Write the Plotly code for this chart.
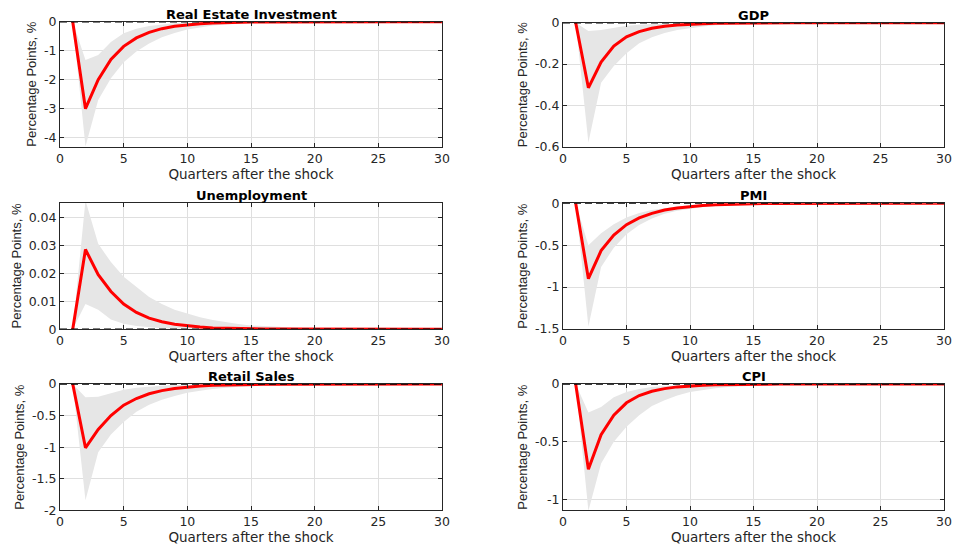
import plotly.graph_objects as go

quarters = list(range(1, 31))

titles = ["Real Estate Investment", "GDP", "Unemployment", "PMI", "Retail Sales", "CPI"]

rei_med = [0, -3.0, -2.0, -1.3, -0.85, -0.56, -0.37, -0.24, -0.16, -0.105, -0.07, -0.046, -0.03, -0.02, -0.013,
           -0.009, -0.006, -0.004, -0.003, -0.002, -0.001, -0.001, -0.001, 0, 0, 0, 0, 0, 0, 0]
rei_lo = [0, -4.3, -2.7, -1.95, -1.4, -1.03, -0.75, -0.54, -0.39, -0.27, -0.19, -0.135, -0.095, -0.067, -0.048,
          -0.034, -0.024, -0.017, -0.012, -0.009, -0.006, -0.004, -0.003, -0.002, -0.002, -0.001, -0.001, -0.001, 0, 0]
rei_hi = [0, -1.32, -1.15, -0.7, -0.4, -0.24, -0.15, -0.09, -0.055, -0.035, -0.022, -0.014, -0.009, -0.006, -0.004,
          -0.003, -0.002, -0.001, -0.001, 0, 0, 0, 0, 0, 0, 0, 0, 0, 0, 0]

gdp_med = [0, -0.315, -0.19, -0.113, -0.068, -0.043, -0.027, -0.017, -0.011, -0.007, -0.0045, -0.003, -0.002, -0.0013, -0.0008,
           -0.0005, -0.0003, -0.0002, -0.0001, 0, 0, 0, 0, 0, 0, 0, 0, 0, 0, 0]
gdp_lo = [0, -0.58, -0.29, -0.21, -0.148, -0.1, -0.07, -0.05, -0.035, -0.025, -0.018, -0.012, -0.008, -0.006, -0.004,
          -0.003, -0.002, -0.0015, -0.001, -0.0007, -0.0005, -0.0003, -0.0002, -0.0001, 0, 0, 0, 0, 0, 0]
gdp_hi = [0, -0.04, -0.035, -0.025, -0.015, -0.01, -0.006, -0.004, -0.0025, -0.0015, -0.001, -0.0006, -0.0004, -0.0002, -0.0001,
          0, 0, 0, 0, 0, 0, 0, 0, 0, 0, 0, 0, 0, 0, 0]

une_med = [0, 0.0285, 0.0195, 0.0135, 0.009, 0.006, 0.004, 0.0027, 0.0018, 0.0012, 0.0008, 0.0005, 0.00035, 0.00023, 0.00015,
           0.0001, 0.00007, 0.00005, 0.00003, 0.00002, 0.00001, 0, 0, 0, 0, 0, 0, 0, 0, 0]
une_lo = [0, 0.009, 0.007, 0.0035, 0.002, 0.0012, 0.0007, 0.0004, 0.00025, 0.00015, 0.0001, 0.00006, 0.00004, 0.00002, 0.00001,
          0, 0, 0, 0, 0, 0, 0, 0, 0, 0, 0, 0, 0, 0, 0]
une_hi = [0, 0.046, 0.0305, 0.024, 0.0188, 0.015, 0.0115, 0.009, 0.007, 0.0056, 0.0043, 0.0033, 0.0025, 0.0019, 0.0014,
          0.0011, 0.0008, 0.0006, 0.00045, 0.00035, 0.00026, 0.0002, 0.00015, 0.00011, 0.00008, 0.00006, 0.00004, 0.00003, 0.00002, 0.00001]

pmi_med = [0, -0.9, -0.565, -0.378, -0.255, -0.175, -0.12, -0.08, -0.055, -0.037, -0.025, -0.017, -0.011, -0.007, -0.005,
           -0.003, -0.002, -0.0013, -0.0008, -0.0005, -0.0003, -0.0002, -0.0001, 0, 0, 0, 0, 0, 0, 0]
pmi_lo = [0, -1.47, -0.76, -0.53, -0.37, -0.26, -0.18, -0.125, -0.088, -0.062, -0.044, -0.031, -0.022, -0.015, -0.011,
          -0.008, -0.005, -0.004, -0.003, -0.002, -0.0013, -0.0009, -0.0006, -0.0004, -0.0003, -0.0002, -0.0001, 0, 0, 0]
pmi_hi = [0, -0.5, -0.358, -0.25, -0.17, -0.115, -0.08, -0.055, -0.038, -0.026, -0.018, -0.012, -0.008, -0.005, -0.0035,
          -0.0023, -0.0015, -0.001, -0.0006, -0.0004, -0.0002, -0.0001, 0, 0, 0, 0, 0, 0, 0, 0]

ret_med = [0, -1.01, -0.72, -0.5, -0.335, -0.23, -0.155, -0.105, -0.07, -0.047, -0.032, -0.021, -0.014, -0.009, -0.006,
           -0.004, -0.0027, -0.0018, -0.0012, -0.0008, -0.0005, -0.0003, -0.0002, -0.0001, 0, 0, 0, 0, 0, 0]
ret_lo = [0, -1.84, -1.08, -0.8, -0.6, -0.44, -0.33, -0.25, -0.19, -0.14, -0.105, -0.08, -0.06, -0.045, -0.034,
          -0.025, -0.019, -0.014, -0.01, -0.0075, -0.0055, -0.004, -0.003, -0.002, -0.0015, -0.001, -0.0007, -0.0005, -0.0003, -0.0002]
ret_hi = [0, -0.21, -0.2, -0.14, -0.09, -0.06, -0.04, -0.026, -0.017, -0.011, -0.007, -0.0045, -0.003, -0.002, -0.0012,
          -0.0008, -0.0005, -0.0003, -0.0002, -0.0001, 0, 0, 0, 0, 0, 0, 0, 0, 0, 0]

cpi_med = [0, -0.74, -0.44, -0.27, -0.163, -0.1, -0.063, -0.04, -0.025, -0.016, -0.01, -0.0065, -0.004, -0.0026, -0.0017,
           -0.0011, -0.0007, -0.0004, -0.0003, -0.0002, -0.0001, 0, 0, 0, 0, 0, 0, 0, 0, 0]
cpi_lo = [0, -1.1, -0.69, -0.5, -0.37, -0.27, -0.19, -0.14, -0.1, -0.07, -0.05, -0.036, -0.026, -0.018, -0.013,
          -0.009, -0.0065, -0.0045, -0.0032, -0.0022, -0.0015, -0.001, -0.0007, -0.0005, -0.0003, -0.0002, -0.0001, 0, 0, 0]
cpi_hi = [0, -0.248, -0.2, -0.115, -0.07, -0.043, -0.027, -0.017, -0.011, -0.007, -0.0045, -0.003, -0.002, -0.0012, -0.0008,
          -0.0005, -0.0003, -0.0002, -0.0001, 0, 0, 0, 0, 0, 0, 0, 0, 0, 0, 0]

series = [
    (rei_med, rei_lo, rei_hi),
    (gdp_med, gdp_lo, gdp_hi),
    (une_med, une_lo, une_hi),
    (pmi_med, pmi_lo, pmi_hi),
    (ret_med, ret_lo, ret_hi),
    (cpi_med, cpi_lo, cpi_hi),
]

y_ranges = [[-4.31, 0], [-0.6, 0], [0, 0.0452], [-1.5, 0], [-2, 0], [-1.095, 0]]
y_ticks = [
    [0, -1, -2, -3, -4],
    [0, -0.2, -0.4, -0.6],
    [0, 0.01, 0.02, 0.03, 0.04],
    [0, -0.5, -1, -1.5],
    [0, -0.5, -1, -1.5, -2],
    [0, -0.5, -1],
]
y_ticklabels = [
    ["0", "-1", "-2", "-3", "-4"],
    ["0", "-0.2", "-0.4", "-0.6"],
    ["0", "0.01", "0.02", "0.03", "0.04"],
    ["0", "-0.5", "-1", "-1.5"],
    ["0", "-0.5", "-1", "-1.5", "-2"],
    ["0", "-0.5", "-1"],
]
x_ticks = [0, 5, 10, 15, 20, 25, 30]

W, H = 955, 552
col_x = [(60, 442), (563, 944)]
row_y = [[(21.7, 146.7), (22.7, 146.7)],
         [(202.7, 329.3), (203.3, 329.0)],
         [(384.0, 510.3), (384.0, 510.3)]]

FONT = "DejaVu Sans, Liberation Sans, sans-serif"
YFONT = "Liberation Sans, Arial, sans-serif"
TXT = "#262626"
fig = go.Figure()
layout = dict(
    width=W, height=H, margin=dict(l=0, r=0, t=0, b=0, autoexpand=False),
    paper_bgcolor="white", plot_bgcolor="white", showlegend=False,
    font=dict(family=FONT, size=12, color=TXT),
)
annotations = []

for i, (title, (med, lo, hi)) in enumerate(zip(titles, series)):
    r, c = divmod(i, 2)
    n = i + 1
    xa = "x" if n == 1 else f"x{n}"
    ya = "y" if n == 1 else f"y{n}"
    x0, x1 = col_x[c]
    top, bot = row_y[r][c]

    fig.add_trace(go.Scatter(
        x=quarters + quarters[::-1], y=hi + lo[::-1], fill="toself",
        fillcolor="rgb(230,230,230)", line=dict(width=0, color="rgba(0,0,0,0)"),
        mode="lines", hoverinfo="skip", xaxis=xa, yaxis=ya))
    fig.add_trace(go.Scatter(
        x=quarters, y=med, mode="lines",
        line=dict(color="red", width=3), xaxis=xa, yaxis=ya))
    fig.add_trace(go.Scatter(
        x=[0, 30], y=[0, 0], mode="lines",
        line=dict(color="black", width=1.5, dash="7px,4px"), xaxis=xa, yaxis=ya))

    xkey = "xaxis" if n == 1 else f"xaxis{n}"
    ykey = "yaxis" if n == 1 else f"yaxis{n}"
    layout[xkey] = dict(
        domain=[x0 / W, x1 / W], anchor=ya, range=[0, 30], automargin=False,
        tickmode="array", tickvals=x_ticks, ticktext=[str(v) for v in x_ticks],
        ticks="inside", ticklen=4,
        tickcolor=TXT, showline=True, linecolor=TXT, linewidth=1,
        mirror="ticks", showgrid=True, gridcolor="#dfdfdf", gridwidth=1,
        zeroline=False, tickfont=dict(size=12.5, family=FONT, color=TXT),
        title=dict(text="Quarters after the shock", standoff=3,
                   font=dict(size=13.5, family=FONT, color=TXT)),
    )
    layout[ykey] = dict(
        domain=[1 - bot / H, 1 - top / H], anchor=xa, range=y_ranges[i], automargin=False,
        tickmode="array", tickvals=y_ticks[i], ticktext=y_ticklabels[i],
        ticks="inside", ticklen=4,
        tickcolor=TXT, showline=True, linecolor=TXT, linewidth=1,
        mirror="ticks", showgrid=True, gridcolor="#dfdfdf", gridwidth=1,
        zeroline=False, tickfont=dict(size=12.5, family=FONT, color=TXT),
        title=dict(text="Percentage Points, %", standoff=4,
                   font=dict(size=13, family=YFONT, color=TXT)),
    )
    annotations.append(dict(
        text=f"<b>{title}</b>", x=(x0 + x1) / 2 / W, y=1 - top / H,
        xref="paper", yref="paper", xanchor="center", yanchor="bottom",
        showarrow=False, yshift=-2, font=dict(size=13, family=FONT, color="black")))

layout["annotations"] = annotations
fig.update_layout(**layout)
fig.write_html("out.html")
